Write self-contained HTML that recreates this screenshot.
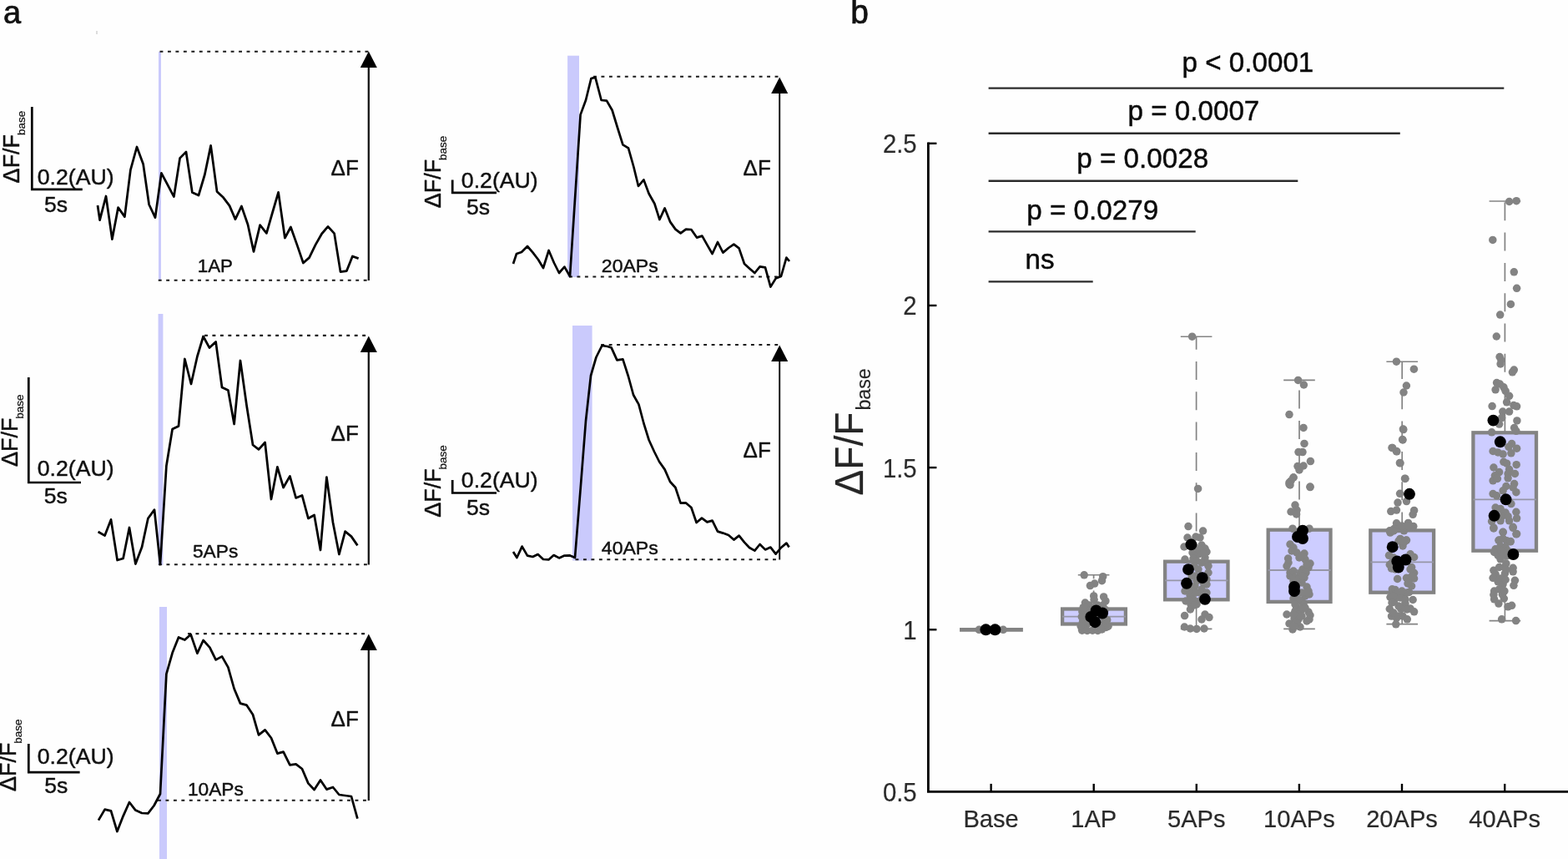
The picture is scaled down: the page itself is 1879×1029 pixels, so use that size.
<!DOCTYPE html>
<html lang="en">
<head>
<meta charset="utf-8">
<title>Figure</title>
<style>
html,body{margin:0;padding:0;background:#fff;}
body{width:1879px;height:1029px;overflow:hidden;}
svg{display:block;font-family:"Liberation Sans",sans-serif;}
</style>
</head>
<body>
<svg width="1879" height="1029" viewBox="0 0 1879 1029">
<rect width="1879" height="1029" fill="#fefefe"/>
<text transform="translate(4.00 28.30) scale(1 1.02)" font-size="38" fill="#111" stroke="#111" stroke-width="0.7" stroke-linejoin="round" text-anchor="start">a</text>
<text transform="translate(1019.30 27.60) scale(1 1.03)" font-size="39" fill="#111" stroke="#111" stroke-width="0.7" stroke-linejoin="round" text-anchor="start">b</text>
<rect x="115.50" y="37.00" width="1.00" height="4.00" fill="#bbb"/>
<rect x="190.00" y="62.00" width="3.00" height="274.00" fill="#cacafc"/>
<line x1="191.50" y1="61.70" x2="441.60" y2="61.70" stroke="#1a1a1a" stroke-width="2.1" stroke-linecap="butt" stroke-dasharray="3.9 5.56"/>
<line x1="189.75" y1="335.75" x2="441.60" y2="335.75" stroke="#1a1a1a" stroke-width="2.1" stroke-linecap="butt" stroke-dasharray="3.9 5.56"/>
<line x1="441.80" y1="71.50" x2="441.80" y2="336.00" stroke="#161616" stroke-width="2.3" stroke-linecap="butt"/>
<polygon points="441.8,61.5 431.8,81.0 451.8,81.0" fill="#000"/>
<polyline points="117.0,246.0 119.6,263.6 127.0,235.0 134.4,286.6 141.6,248.6 149.4,259.6 156.4,203.6 164.0,176.0 171.6,196.4 178.6,245.0 186.0,260.6 193.4,207.4 201.0,221.6 208.4,235.6 215.6,189.4 223.0,182.0 230.4,230.6 238.0,234.0 245.4,209.0 252.6,174.4 260.0,229.4 267.6,236.6 275.0,246.4 282.0,262.6 289.4,247.0 297.0,269.0 304.0,301.4 311.6,269.6 319.4,279.4 326.4,255.0 333.6,230.4 341.4,285.0 348.4,272.0 356.0,293.4 363.4,315.0 370.6,308.6 378.0,293.4 385.6,280.0 393.0,271.4 400.6,279.6 408.0,325.6 415.4,324.6 422.4,307.0 429.6,309.6" fill="none" stroke="#000" stroke-width="2.75" stroke-linejoin="round" stroke-linecap="butt"/>
<text transform="translate(236.70 325.60) scale(1 0.99)" font-size="22.4" fill="#111" stroke="#111" stroke-width="0.45" stroke-linejoin="round" text-anchor="start">1AP</text>
<text transform="translate(396.60 209.60) scale(1 0.99)" font-size="26" fill="#111" stroke="#111" stroke-width="0.45" stroke-linejoin="round" text-anchor="start">&#916;F</text>
<polyline points="38.3,128.0 38.3,226.8 98.8,226.8" fill="none" stroke="#000" stroke-width="2.7" stroke-linejoin="miter"/>
<text transform="translate(44.70 220.80) scale(1 0.99)" font-size="26.7" fill="#111" stroke="#111" stroke-width="0.45" stroke-linejoin="round" text-anchor="start">0.2(AU)</text>
<text transform="translate(53.00 254.00) scale(1 0.99)" font-size="26.6" fill="#111" stroke="#111" stroke-width="0.45" stroke-linejoin="round" text-anchor="start">5s</text>
<text transform="translate(23.20 219.40) rotate(-90) scale(1 0.99)" font-size="27" fill="#111" stroke="#111" stroke-width="0.45" stroke-linejoin="round">&#916;F/F<tspan font-size="13.5" dy="7.0" dx="-1.2" stroke-width="0.25">base</tspan></text>
<rect x="189.60" y="376.00" width="5.80" height="301.00" fill="#cacafc"/>
<line x1="245.00" y1="401.85" x2="441.60" y2="401.85" stroke="#1a1a1a" stroke-width="2.1" stroke-linecap="butt" stroke-dasharray="3.9 5.56"/>
<line x1="190.00" y1="676.30" x2="441.60" y2="676.30" stroke="#1a1a1a" stroke-width="2.1" stroke-linecap="butt" stroke-dasharray="3.9 5.56"/>
<line x1="441.80" y1="412.50" x2="441.80" y2="676.50" stroke="#161616" stroke-width="2.3" stroke-linecap="butt"/>
<polygon points="441.8,402.5 431.8,422.0 451.8,422.0" fill="#000"/>
<polyline points="117.6,637.0 125.6,641.6 133.0,622.4 140.6,671.0 147.6,669.0 155.0,632.0 162.4,675.6 170.0,655.6 177.4,621.0 185.0,610.6 192.0,676.0 199.4,558.0 206.6,514.0 214.0,510.4 221.4,430.0 229.0,460.0 236.4,427.0 243.6,403.0 251.0,416.6 258.6,409.4 266.0,464.0 273.4,467.6 280.6,508.0 288.0,432.0 295.6,486.0 303.0,533.0 310.0,538.4 317.6,530.0 325.0,598.0 332.4,559.4 339.6,584.0 347.4,570.4 354.6,596.4 362.0,593.4 369.4,621.0 376.6,617.0 384.0,659.0 391.4,571.6 399.0,626.0 406.4,664.0 413.6,636.6 421.0,642.6 428.4,653.4" fill="none" stroke="#000" stroke-width="2.75" stroke-linejoin="round" stroke-linecap="butt"/>
<text transform="translate(231.00 668.00) scale(1 0.99)" font-size="22.7" fill="#111" stroke="#111" stroke-width="0.45" stroke-linejoin="round" text-anchor="start">5APs</text>
<text transform="translate(396.60 528.00) scale(1 0.99)" font-size="26" fill="#111" stroke="#111" stroke-width="0.45" stroke-linejoin="round" text-anchor="start">&#916;F</text>
<polyline points="34.3,452.0 34.3,578.0 97.0,578.0" fill="none" stroke="#000" stroke-width="2.7" stroke-linejoin="miter"/>
<text transform="translate(44.70 570.30) scale(1 0.99)" font-size="26.7" fill="#111" stroke="#111" stroke-width="0.45" stroke-linejoin="round" text-anchor="start">0.2(AU)</text>
<text transform="translate(52.70 603.40) scale(1 0.99)" font-size="26.6" fill="#111" stroke="#111" stroke-width="0.45" stroke-linejoin="round" text-anchor="start">5s</text>
<text transform="translate(21.10 559.00) rotate(-90) scale(1 0.99)" font-size="27" fill="#111" stroke="#111" stroke-width="0.45" stroke-linejoin="round">&#916;F/F<tspan font-size="13.5" dy="7.0" dx="-1.2" stroke-width="0.25">base</tspan></text>
<rect x="191.00" y="727.00" width="9.00" height="302.00" fill="#cacafc"/>
<line x1="225.00" y1="759.10" x2="441.60" y2="759.10" stroke="#1a1a1a" stroke-width="2.1" stroke-linecap="butt" stroke-dasharray="3.9 5.56"/>
<line x1="189.00" y1="958.80" x2="441.60" y2="958.80" stroke="#1a1a1a" stroke-width="2.1" stroke-linecap="butt" stroke-dasharray="3.9 5.56"/>
<line x1="441.80" y1="769.50" x2="441.80" y2="959.00" stroke="#161616" stroke-width="2.3" stroke-linecap="butt"/>
<polygon points="441.8,759.5 431.8,779.0 451.8,779.0" fill="#000"/>
<polyline points="118.0,982.6 125.6,969.6 133.0,971.4 140.4,996.0 147.6,977.6 155.0,961.0 162.4,970.6 170.0,974.0 177.4,974.4 184.6,965.0 192.0,951.0 199.4,807.4 206.6,782.0 214.0,763.4 221.4,766.6 228.6,760.0 236.4,782.6 243.6,767.0 251.4,775.6 258.6,790.4 266.0,786.4 273.4,799.4 280.6,825.0 288.0,842.6 295.4,844.6 303.0,856.0 310.0,880.4 317.6,874.4 325.0,884.0 332.4,902.6 339.6,900.6 347.4,916.4 354.6,915.4 362.0,921.0 369.4,938.4 376.6,946.0 384.0,934.4 391.4,945.6 399.0,943.0 406.4,952.0 413.6,953.0 421.0,954.0 428.4,980.6" fill="none" stroke="#000" stroke-width="2.75" stroke-linejoin="round" stroke-linecap="butt"/>
<text transform="translate(225.00 953.00) scale(1 0.99)" font-size="22.7" fill="#111" stroke="#111" stroke-width="0.45" stroke-linejoin="round" text-anchor="start">10APs</text>
<text transform="translate(396.60 870.00) scale(1 0.99)" font-size="26" fill="#111" stroke="#111" stroke-width="0.45" stroke-linejoin="round" text-anchor="start">&#916;F</text>
<polyline points="34.3,891.0 34.3,925.2 95.6,925.2" fill="none" stroke="#000" stroke-width="2.7" stroke-linejoin="miter"/>
<text transform="translate(44.70 914.60) scale(1 0.99)" font-size="26.7" fill="#111" stroke="#111" stroke-width="0.45" stroke-linejoin="round" text-anchor="start">0.2(AU)</text>
<text transform="translate(53.30 950.20) scale(1 0.99)" font-size="26.6" fill="#111" stroke="#111" stroke-width="0.45" stroke-linejoin="round" text-anchor="start">5s</text>
<text transform="translate(19.00 948.00) rotate(-90) scale(1 0.99)" font-size="27" fill="#111" stroke="#111" stroke-width="0.45" stroke-linejoin="round">&#916;F/F<tspan font-size="13.5" dy="7.0" dx="-1.2" stroke-width="0.25">base</tspan></text>
<rect x="680.10" y="66.70" width="13.90" height="265.30" fill="#cacafc"/>
<line x1="711.00" y1="91.70" x2="933.60" y2="91.70" stroke="#1a1a1a" stroke-width="2.1" stroke-linecap="butt" stroke-dasharray="3.9 5.56"/>
<line x1="682.00" y1="331.50" x2="933.00" y2="331.50" stroke="#1a1a1a" stroke-width="2.1" stroke-linecap="butt" stroke-dasharray="3.9 5.56"/>
<line x1="934.20" y1="102.50" x2="934.20" y2="332.00" stroke="#161616" stroke-width="2.0" stroke-linecap="butt"/>
<polygon points="934.2,92.5 924.2,112.0 944.2,112.0" fill="#000"/>
<polyline points="615.0,316.0 619.0,304.0 625.0,302.0 632.0,295.0 638.4,302.4 645.0,311.0 651.0,321.0 657.6,300.0 664.0,315.0 670.0,327.0 676.4,319.6 683.0,331.0 695.6,137.4 702.0,120.0 708.4,94.0 713.4,92.6 720.6,120.0 727.0,120.6 733.6,132.0 740.0,153.0 746.4,173.4 753.0,177.4 759.4,200.0 765.0,223.0 771.4,215.4 777.6,232.0 784.4,244.0 790.4,263.0 796.6,249.4 803.0,265.6 809.4,274.6 815.6,279.4 822.0,274.6 828.4,275.0 835.0,284.6 841.4,282.6 847.6,293.6 853.6,304.0 860.0,290.0 866.4,302.6 873.0,297.0 879.4,292.6 885.6,297.4 892.0,316.0 898.0,321.4 904.4,327.0 910.6,319.4 917.0,320.4 923.4,343.6 929.6,333.6 936.0,331.0 942.4,308.6 946.0,313.0" fill="none" stroke="#000" stroke-width="2.7" stroke-linejoin="round" stroke-linecap="butt"/>
<text transform="translate(720.80 325.60) scale(1 0.99)" font-size="23.1" fill="#111" stroke="#111" stroke-width="0.45" stroke-linejoin="round" text-anchor="start">20APs</text>
<text transform="translate(890.60 210.00) scale(1 0.99)" font-size="26" fill="#111" stroke="#111" stroke-width="0.45" stroke-linejoin="round" text-anchor="start">&#916;F</text>
<polyline points="542.2,215.4 542.2,230.8 595.0,230.8" fill="none" stroke="#000" stroke-width="2.7" stroke-linejoin="miter"/>
<text transform="translate(552.80 224.70) scale(1 0.99)" font-size="26.7" fill="#111" stroke="#111" stroke-width="0.45" stroke-linejoin="round" text-anchor="start">0.2(AU)</text>
<text transform="translate(559.00 257.40) scale(1 0.99)" font-size="26.6" fill="#111" stroke="#111" stroke-width="0.45" stroke-linejoin="round" text-anchor="start">5s</text>
<text transform="translate(527.75 249.30) rotate(-90) scale(1 0.99)" font-size="27" fill="#111" stroke="#111" stroke-width="0.45" stroke-linejoin="round">&#916;F/F<tspan font-size="13.5" dy="7.0" dx="-1.2" stroke-width="0.25">base</tspan></text>
<rect x="686.00" y="390.00" width="23.60" height="281.50" fill="#cacafc"/>
<line x1="720.20" y1="413.00" x2="933.60" y2="413.00" stroke="#1a1a1a" stroke-width="2.1" stroke-linecap="butt" stroke-dasharray="3.9 5.56"/>
<line x1="689.50" y1="670.30" x2="933.60" y2="670.30" stroke="#1a1a1a" stroke-width="2.1" stroke-linecap="butt" stroke-dasharray="3.9 5.56"/>
<line x1="934.20" y1="423.50" x2="934.20" y2="670.50" stroke="#161616" stroke-width="2.0" stroke-linecap="butt"/>
<polygon points="934.2,413.5 924.2,433.0 944.2,433.0" fill="#000"/>
<polyline points="615.0,661.0 619.4,668.0 625.6,654.6 632.0,665.6 638.4,667.0 644.6,664.0 651.0,670.0 657.4,670.4 663.6,665.0 670.0,668.4 676.4,665.6 683.0,665.4 689.0,668.0 695.6,585.8 702.0,504.0 708.0,450.0 714.4,428.0 721.4,414.0 728.0,415.0 732.6,416.4 739.4,431.4 746.4,430.4 753.0,451.0 759.0,473.0 765.4,484.4 771.4,507.0 777.6,527.0 784.0,541.0 790.0,553.0 796.6,562.4 803.0,577.0 809.4,584.0 815.6,602.6 822.0,602.4 828.4,608.0 834.6,626.0 841.0,620.6 847.4,625.4 853.6,623.6 860.0,636.6 866.4,638.6 873.0,641.0 879.4,646.6 885.6,641.6 892.0,649.6 898.0,656.0 904.4,659.6 910.6,652.0 917.0,658.4 923.4,655.6 929.6,663.6 936.0,656.0 942.4,650.6 945.6,655.6" fill="none" stroke="#000" stroke-width="2.7" stroke-linejoin="round" stroke-linecap="butt"/>
<text transform="translate(720.80 664.30) scale(1 0.99)" font-size="23.1" fill="#111" stroke="#111" stroke-width="0.45" stroke-linejoin="round" text-anchor="start">40APs</text>
<text transform="translate(890.60 547.60) scale(1 0.99)" font-size="26" fill="#111" stroke="#111" stroke-width="0.45" stroke-linejoin="round" text-anchor="start">&#916;F</text>
<polyline points="542.2,575.0 542.2,590.5 595.0,590.5" fill="none" stroke="#000" stroke-width="2.7" stroke-linejoin="miter"/>
<text transform="translate(552.80 583.90) scale(1 0.99)" font-size="26.7" fill="#111" stroke="#111" stroke-width="0.45" stroke-linejoin="round" text-anchor="start">0.2(AU)</text>
<text transform="translate(559.00 616.50) scale(1 0.99)" font-size="26.6" fill="#111" stroke="#111" stroke-width="0.45" stroke-linejoin="round" text-anchor="start">5s</text>
<text transform="translate(527.75 619.80) rotate(-90) scale(1 0.99)" font-size="27" fill="#111" stroke="#111" stroke-width="0.45" stroke-linejoin="round">&#916;F/F<tspan font-size="13.5" dy="7.0" dx="-1.2" stroke-width="0.25">base</tspan></text>
<line x1="1184.60" y1="105.60" x2="1802.30" y2="105.60" stroke="#2b2b2b" stroke-width="2.4" stroke-linecap="butt"/>
<text transform="translate(1416.50 86.10) scale(1 1.01)" font-size="33.2" fill="#0a0a0a" stroke="#0a0a0a" stroke-width="0.45" stroke-linejoin="round" text-anchor="start">p &lt; 0.0001</text>
<line x1="1184.60" y1="159.80" x2="1677.80" y2="159.80" stroke="#2b2b2b" stroke-width="2.4" stroke-linecap="butt"/>
<text transform="translate(1351.50 143.60) scale(1 1.01)" font-size="33.2" fill="#0a0a0a" stroke="#0a0a0a" stroke-width="0.45" stroke-linejoin="round" text-anchor="start">p = 0.0007</text>
<line x1="1184.60" y1="216.80" x2="1555.30" y2="216.80" stroke="#2b2b2b" stroke-width="2.4" stroke-linecap="butt"/>
<text transform="translate(1290.30 200.60) scale(1 1.01)" font-size="33.2" fill="#0a0a0a" stroke="#0a0a0a" stroke-width="0.45" stroke-linejoin="round" text-anchor="start">p = 0.0028</text>
<line x1="1184.60" y1="277.40" x2="1432.70" y2="277.40" stroke="#2b2b2b" stroke-width="2.4" stroke-linecap="butt"/>
<text transform="translate(1230.30 262.60) scale(1 1.01)" font-size="33.2" fill="#0a0a0a" stroke="#0a0a0a" stroke-width="0.45" stroke-linejoin="round" text-anchor="start">p = 0.0279</text>
<line x1="1184.60" y1="337.40" x2="1309.70" y2="337.40" stroke="#2b2b2b" stroke-width="2.4" stroke-linecap="butt"/>
<text transform="translate(1228.60 321.60) scale(1 1.01)" font-size="33.2" fill="#0a0a0a" stroke="#0a0a0a" stroke-width="0.45" stroke-linejoin="round" text-anchor="start">ns</text>
<line x1="1150.00" y1="754.30" x2="1225.90" y2="754.30" stroke="#838383" stroke-width="4.8" stroke-linecap="butt"/>
<circle cx="1173.2" cy="754.3" r="4.75" fill="#838383"/>
<circle cx="1178.0" cy="754.3" r="4.75" fill="#838383"/>
<circle cx="1196.0" cy="754.3" r="4.75" fill="#838383"/>
<circle cx="1202.2" cy="754.3" r="4.75" fill="#838383"/>
<circle cx="1181.4" cy="754.3" r="6.95" fill="#000"/>
<circle cx="1192.4" cy="754.3" r="6.95" fill="#000"/>
<line x1="1310.60" y1="729.60" x2="1310.60" y2="688.80" stroke="#838383" stroke-width="1.7" stroke-linecap="butt" stroke-dasharray="22 14.3"/>
<line x1="1310.60" y1="749.60" x2="1310.60" y2="754.20" stroke="#838383" stroke-width="1.6" stroke-linecap="butt"/>
<line x1="1291.80" y1="688.80" x2="1329.40" y2="688.80" stroke="#838383" stroke-width="1.6" stroke-linecap="butt"/>
<line x1="1291.80" y1="754.20" x2="1329.40" y2="754.20" stroke="#838383" stroke-width="1.6" stroke-linecap="butt"/>
<rect x="1273.10" y="729.50" width="75.80" height="18.00" fill="#cdcdff" stroke="#838383" stroke-width="4.3"/>
<line x1="1273.00" y1="738.70" x2="1349.00" y2="738.70" stroke="#9696a6" stroke-width="1.8" stroke-linecap="butt"/>
<circle cx="1299.2" cy="688.8" r="4.75" fill="#838383"/>
<circle cx="1321.7" cy="690.7" r="4.75" fill="#838383"/>
<circle cx="1320.5" cy="695.7" r="4.75" fill="#838383"/>
<circle cx="1311.7" cy="699.1" r="4.75" fill="#838383"/>
<circle cx="1306.4" cy="701.6" r="4.75" fill="#838383"/>
<circle cx="1310.7" cy="713.9" r="4.75" fill="#838383"/>
<circle cx="1311.1" cy="718.3" r="4.75" fill="#838383"/>
<circle cx="1322.6" cy="714.9" r="4.75" fill="#838383"/>
<circle cx="1324.9" cy="719.9" r="4.75" fill="#838383"/>
<circle cx="1300.4" cy="722.0" r="4.75" fill="#838383"/>
<circle cx="1305.4" cy="725.1" r="4.75" fill="#838383"/>
<circle cx="1315.5" cy="725.1" r="4.75" fill="#838383"/>
<circle cx="1321.7" cy="725.1" r="4.75" fill="#838383"/>
<circle cx="1301.7" cy="728.9" r="4.75" fill="#838383"/>
<circle cx="1306.7" cy="730.2" r="4.75" fill="#838383"/>
<circle cx="1318.0" cy="728.9" r="4.75" fill="#838383"/>
<circle cx="1324.2" cy="730.2" r="4.75" fill="#838383"/>
<circle cx="1302.9" cy="735.2" r="4.75" fill="#838383"/>
<circle cx="1315.5" cy="736.4" r="4.75" fill="#838383"/>
<circle cx="1323.0" cy="740.2" r="4.75" fill="#838383"/>
<circle cx="1301.7" cy="741.4" r="4.75" fill="#838383"/>
<circle cx="1324.2" cy="746.5" r="4.75" fill="#838383"/>
<circle cx="1302.9" cy="747.7" r="4.75" fill="#838383"/>
<circle cx="1318.0" cy="747.7" r="4.75" fill="#838383"/>
<circle cx="1297.9" cy="751.5" r="4.75" fill="#838383"/>
<circle cx="1325.5" cy="751.5" r="4.75" fill="#838383"/>
<circle cx="1296.7" cy="755.2" r="4.75" fill="#838383"/>
<circle cx="1302.9" cy="755.5" r="4.75" fill="#838383"/>
<circle cx="1309.2" cy="755.2" r="4.75" fill="#838383"/>
<circle cx="1315.5" cy="755.5" r="4.75" fill="#838383"/>
<circle cx="1320.5" cy="754.0" r="4.75" fill="#838383"/>
<circle cx="1296.9" cy="732.7" r="4.75" fill="#838383"/>
<circle cx="1296.3" cy="738.9" r="4.75" fill="#838383"/>
<circle cx="1297.4" cy="745.2" r="4.75" fill="#838383"/>
<circle cx="1295.2" cy="750.2" r="4.75" fill="#838383"/>
<circle cx="1298.2" cy="727.7" r="4.75" fill="#838383"/>
<circle cx="1328.0" cy="750.2" r="4.75" fill="#838383"/>
<circle cx="1326.7" cy="742.7" r="4.75" fill="#838383"/>
<circle cx="1313.6" cy="731.4" r="6.95" fill="#000"/>
<circle cx="1321.1" cy="734.5" r="6.95" fill="#000"/>
<circle cx="1307.3" cy="738.9" r="6.95" fill="#000"/>
<circle cx="1312.3" cy="745.2" r="6.95" fill="#000"/>
<line x1="1433.60" y1="672.80" x2="1433.60" y2="403.20" stroke="#838383" stroke-width="1.7" stroke-linecap="butt" stroke-dasharray="22 14.3"/>
<line x1="1433.60" y1="720.40" x2="1433.60" y2="753.40" stroke="#838383" stroke-width="1.6" stroke-linecap="butt"/>
<line x1="1414.80" y1="403.20" x2="1452.40" y2="403.20" stroke="#838383" stroke-width="1.6" stroke-linecap="butt"/>
<line x1="1414.80" y1="753.40" x2="1452.40" y2="753.40" stroke="#838383" stroke-width="1.6" stroke-linecap="butt"/>
<rect x="1396.10" y="672.70" width="75.40" height="45.60" fill="#cdcdff" stroke="#838383" stroke-width="4.3"/>
<line x1="1396.00" y1="695.40" x2="1471.60" y2="695.40" stroke="#9696a6" stroke-width="1.8" stroke-linecap="butt"/>
<circle cx="1435.6" cy="585.4" r="4.75" fill="#838383"/>
<circle cx="1424.0" cy="630.6" r="4.75" fill="#838383"/>
<circle cx="1441.6" cy="636.0" r="4.75" fill="#838383"/>
<circle cx="1423.0" cy="644.0" r="4.75" fill="#838383"/>
<circle cx="1433.0" cy="643.0" r="4.75" fill="#838383"/>
<circle cx="1438.0" cy="644.0" r="4.75" fill="#838383"/>
<circle cx="1419.0" cy="655.0" r="4.75" fill="#838383"/>
<circle cx="1440.0" cy="653.0" r="4.75" fill="#838383"/>
<circle cx="1444.0" cy="657.0" r="4.75" fill="#838383"/>
<circle cx="1446.0" cy="661.0" r="4.75" fill="#838383"/>
<circle cx="1429.0" cy="662.0" r="4.75" fill="#838383"/>
<circle cx="1436.0" cy="664.0" r="4.75" fill="#838383"/>
<circle cx="1420.0" cy="670.0" r="4.75" fill="#838383"/>
<circle cx="1430.0" cy="669.0" r="4.75" fill="#838383"/>
<circle cx="1444.0" cy="668.0" r="4.75" fill="#838383"/>
<circle cx="1434.0" cy="672.0" r="4.75" fill="#838383"/>
<circle cx="1440.0" cy="674.0" r="4.75" fill="#838383"/>
<circle cx="1447.0" cy="675.0" r="4.75" fill="#838383"/>
<circle cx="1431.0" cy="678.0" r="4.75" fill="#838383"/>
<circle cx="1448.0" cy="686.0" r="4.75" fill="#838383"/>
<circle cx="1432.0" cy="690.0" r="4.75" fill="#838383"/>
<circle cx="1446.0" cy="700.0" r="4.75" fill="#838383"/>
<circle cx="1432.0" cy="702.0" r="4.75" fill="#838383"/>
<circle cx="1440.0" cy="706.0" r="4.75" fill="#838383"/>
<circle cx="1420.0" cy="708.0" r="4.75" fill="#838383"/>
<circle cx="1446.0" cy="710.0" r="4.75" fill="#838383"/>
<circle cx="1426.0" cy="713.0" r="4.75" fill="#838383"/>
<circle cx="1430.0" cy="718.0" r="4.75" fill="#838383"/>
<circle cx="1421.0" cy="720.0" r="4.75" fill="#838383"/>
<circle cx="1427.0" cy="724.0" r="4.75" fill="#838383"/>
<circle cx="1434.0" cy="724.0" r="4.75" fill="#838383"/>
<circle cx="1426.4" cy="730.0" r="4.75" fill="#838383"/>
<circle cx="1419.6" cy="737.6" r="4.75" fill="#838383"/>
<circle cx="1444.0" cy="736.0" r="4.75" fill="#838383"/>
<circle cx="1449.0" cy="739.6" r="4.75" fill="#838383"/>
<circle cx="1440.0" cy="742.0" r="4.75" fill="#838383"/>
<circle cx="1419.4" cy="751.0" r="4.75" fill="#838383"/>
<circle cx="1426.4" cy="753.0" r="4.75" fill="#838383"/>
<circle cx="1434.0" cy="753.4" r="4.75" fill="#838383"/>
<circle cx="1443.0" cy="753.0" r="4.75" fill="#838383"/>
<circle cx="1428.6" cy="403.2" r="4.75" fill="#838383"/>
<circle cx="1436.0" cy="682.0" r="4.75" fill="#838383"/>
<circle cx="1440.0" cy="690.0" r="4.75" fill="#838383"/>
<circle cx="1434.0" cy="696.0" r="4.75" fill="#838383"/>
<circle cx="1442.0" cy="698.0" r="4.75" fill="#838383"/>
<circle cx="1428.0" cy="690.0" r="4.75" fill="#838383"/>
<circle cx="1438.0" cy="710.0" r="4.75" fill="#838383"/>
<circle cx="1446.0" cy="694.0" r="4.75" fill="#838383"/>
<circle cx="1448.0" cy="678.0" r="4.75" fill="#838383"/>
<circle cx="1426.0" cy="706.0" r="4.75" fill="#838383"/>
<circle cx="1440.0" cy="718.0" r="4.75" fill="#838383"/>
<circle cx="1431.0" cy="655.0" r="4.75" fill="#838383"/>
<circle cx="1427.0" cy="649.0" r="4.75" fill="#838383"/>
<circle cx="1437.0" cy="658.0" r="4.75" fill="#838383"/>
<circle cx="1442.0" cy="663.0" r="4.75" fill="#838383"/>
<circle cx="1433.0" cy="710.0" r="4.75" fill="#838383"/>
<circle cx="1425.0" cy="719.0" r="4.75" fill="#838383"/>
<circle cx="1431.0" cy="725.0" r="4.75" fill="#838383"/>
<circle cx="1427.4" cy="652.4" r="6.95" fill="#000"/>
<circle cx="1424.0" cy="682.1" r="6.95" fill="#000"/>
<circle cx="1440.8" cy="692.1" r="6.95" fill="#000"/>
<circle cx="1422.0" cy="698.8" r="6.95" fill="#000"/>
<circle cx="1444.0" cy="717.8" r="6.95" fill="#000"/>
<line x1="1557.00" y1="634.80" x2="1557.00" y2="455.40" stroke="#838383" stroke-width="1.7" stroke-linecap="butt" stroke-dasharray="22 14.3"/>
<line x1="1557.00" y1="723.00" x2="1557.00" y2="753.40" stroke="#838383" stroke-width="1.6" stroke-linecap="butt"/>
<line x1="1538.20" y1="455.40" x2="1575.80" y2="455.40" stroke="#838383" stroke-width="1.6" stroke-linecap="butt"/>
<line x1="1538.20" y1="753.40" x2="1575.80" y2="753.40" stroke="#838383" stroke-width="1.6" stroke-linecap="butt"/>
<rect x="1519.70" y="634.70" width="74.80" height="86.20" fill="#cdcdff" stroke="#838383" stroke-width="4.3"/>
<line x1="1519.60" y1="683.00" x2="1594.60" y2="683.00" stroke="#9696a6" stroke-width="1.8" stroke-linecap="butt"/>
<circle cx="1550.0" cy="572.0" r="4.75" fill="#838383"/>
<circle cx="1545.0" cy="578.0" r="4.75" fill="#838383"/>
<circle cx="1546.0" cy="581.0" r="4.75" fill="#838383"/>
<circle cx="1570.0" cy="583.6" r="4.75" fill="#838383"/>
<circle cx="1552.0" cy="605.0" r="4.75" fill="#838383"/>
<circle cx="1547.0" cy="613.0" r="4.75" fill="#838383"/>
<circle cx="1554.0" cy="611.0" r="4.75" fill="#838383"/>
<circle cx="1553.6" cy="616.0" r="4.75" fill="#838383"/>
<circle cx="1549.0" cy="633.2" r="4.75" fill="#838383"/>
<circle cx="1569.0" cy="633.2" r="4.75" fill="#838383"/>
<circle cx="1546.0" cy="652.0" r="4.75" fill="#838383"/>
<circle cx="1550.0" cy="656.0" r="4.75" fill="#838383"/>
<circle cx="1554.0" cy="662.0" r="4.75" fill="#838383"/>
<circle cx="1563.0" cy="663.0" r="4.75" fill="#838383"/>
<circle cx="1557.0" cy="668.0" r="4.75" fill="#838383"/>
<circle cx="1543.6" cy="669.0" r="4.75" fill="#838383"/>
<circle cx="1564.0" cy="670.0" r="4.75" fill="#838383"/>
<circle cx="1544.0" cy="674.0" r="4.75" fill="#838383"/>
<circle cx="1570.0" cy="675.0" r="4.75" fill="#838383"/>
<circle cx="1542.0" cy="678.0" r="4.75" fill="#838383"/>
<circle cx="1568.0" cy="680.0" r="4.75" fill="#838383"/>
<circle cx="1561.0" cy="682.0" r="4.75" fill="#838383"/>
<circle cx="1546.0" cy="686.0" r="4.75" fill="#838383"/>
<circle cx="1558.0" cy="687.0" r="4.75" fill="#838383"/>
<circle cx="1546.0" cy="690.0" r="4.75" fill="#838383"/>
<circle cx="1563.0" cy="692.0" r="4.75" fill="#838383"/>
<circle cx="1550.0" cy="696.0" r="4.75" fill="#838383"/>
<circle cx="1560.0" cy="698.0" r="4.75" fill="#838383"/>
<circle cx="1566.0" cy="703.0" r="4.75" fill="#838383"/>
<circle cx="1568.0" cy="708.0" r="4.75" fill="#838383"/>
<circle cx="1569.0" cy="712.0" r="4.75" fill="#838383"/>
<circle cx="1564.0" cy="714.0" r="4.75" fill="#838383"/>
<circle cx="1550.0" cy="717.0" r="4.75" fill="#838383"/>
<circle cx="1560.0" cy="720.0" r="4.75" fill="#838383"/>
<circle cx="1562.0" cy="724.0" r="4.75" fill="#838383"/>
<circle cx="1554.0" cy="728.0" r="4.75" fill="#838383"/>
<circle cx="1560.0" cy="730.0" r="4.75" fill="#838383"/>
<circle cx="1552.0" cy="732.0" r="4.75" fill="#838383"/>
<circle cx="1568.0" cy="733.0" r="4.75" fill="#838383"/>
<circle cx="1542.0" cy="736.0" r="4.75" fill="#838383"/>
<circle cx="1556.0" cy="736.0" r="4.75" fill="#838383"/>
<circle cx="1570.0" cy="737.0" r="4.75" fill="#838383"/>
<circle cx="1551.0" cy="741.0" r="4.75" fill="#838383"/>
<circle cx="1569.0" cy="742.0" r="4.75" fill="#838383"/>
<circle cx="1566.0" cy="744.0" r="4.75" fill="#838383"/>
<circle cx="1545.0" cy="747.0" r="4.75" fill="#838383"/>
<circle cx="1554.0" cy="747.0" r="4.75" fill="#838383"/>
<circle cx="1558.0" cy="751.0" r="4.75" fill="#838383"/>
<circle cx="1549.0" cy="754.0" r="4.75" fill="#838383"/>
<circle cx="1555.6" cy="455.4" r="4.75" fill="#838383"/>
<circle cx="1562.4" cy="461.0" r="4.75" fill="#838383"/>
<circle cx="1545.0" cy="496.6" r="4.75" fill="#838383"/>
<circle cx="1562.0" cy="512.4" r="4.75" fill="#838383"/>
<circle cx="1563.0" cy="531.4" r="4.75" fill="#838383"/>
<circle cx="1556.0" cy="541.6" r="4.75" fill="#838383"/>
<circle cx="1561.0" cy="541.6" r="4.75" fill="#838383"/>
<circle cx="1570.4" cy="552.6" r="4.75" fill="#838383"/>
<circle cx="1555.0" cy="558.6" r="4.75" fill="#838383"/>
<circle cx="1562.0" cy="558.0" r="4.75" fill="#838383"/>
<circle cx="1557.0" cy="563.0" r="4.75" fill="#838383"/>
<circle cx="1550.0" cy="572.0" r="4.75" fill="#838383"/>
<circle cx="1547.0" cy="576.0" r="4.75" fill="#838383"/>
<circle cx="1545.0" cy="580.0" r="4.75" fill="#838383"/>
<circle cx="1570.0" cy="583.0" r="4.75" fill="#838383"/>
<circle cx="1550.0" cy="684.0" r="4.75" fill="#838383"/>
<circle cx="1552.0" cy="692.0" r="4.75" fill="#838383"/>
<circle cx="1556.0" cy="694.0" r="4.75" fill="#838383"/>
<circle cx="1560.0" cy="710.0" r="4.75" fill="#838383"/>
<circle cx="1556.0" cy="718.0" r="4.75" fill="#838383"/>
<circle cx="1552.0" cy="724.0" r="4.75" fill="#838383"/>
<circle cx="1564.0" cy="728.0" r="4.75" fill="#838383"/>
<circle cx="1556.0" cy="742.0" r="4.75" fill="#838383"/>
<circle cx="1550.0" cy="736.0" r="4.75" fill="#838383"/>
<circle cx="1560.0" cy="738.0" r="4.75" fill="#838383"/>
<circle cx="1548.0" cy="660.0" r="4.75" fill="#838383"/>
<circle cx="1560.0" cy="666.0" r="4.75" fill="#838383"/>
<circle cx="1566.0" cy="676.0" r="4.75" fill="#838383"/>
<circle cx="1565.0" cy="686.0" r="4.75" fill="#838383"/>
<circle cx="1561.0" cy="690.0" r="4.75" fill="#838383"/>
<circle cx="1567.0" cy="710.0" r="4.75" fill="#838383"/>
<circle cx="1554.0" cy="746.0" r="4.75" fill="#838383"/>
<circle cx="1550.0" cy="750.0" r="4.75" fill="#838383"/>
<circle cx="1561.0" cy="635.6" r="6.95" fill="#000"/>
<circle cx="1555.0" cy="643.0" r="6.95" fill="#000"/>
<circle cx="1561.0" cy="645.0" r="6.95" fill="#000"/>
<circle cx="1551.0" cy="703.0" r="6.95" fill="#000"/>
<circle cx="1551.0" cy="708.0" r="6.95" fill="#000"/>
<line x1="1680.20" y1="635.50" x2="1680.20" y2="433.20" stroke="#838383" stroke-width="1.7" stroke-linecap="butt" stroke-dasharray="22 14.3"/>
<line x1="1680.20" y1="711.80" x2="1680.20" y2="747.60" stroke="#838383" stroke-width="1.6" stroke-linecap="butt"/>
<line x1="1661.40" y1="433.20" x2="1699.00" y2="433.20" stroke="#838383" stroke-width="1.6" stroke-linecap="butt"/>
<line x1="1661.40" y1="747.60" x2="1699.00" y2="747.60" stroke="#838383" stroke-width="1.6" stroke-linecap="butt"/>
<rect x="1642.30" y="635.40" width="75.80" height="74.30" fill="#cdcdff" stroke="#838383" stroke-width="4.3"/>
<line x1="1642.20" y1="673.30" x2="1718.20" y2="673.30" stroke="#9696a6" stroke-width="1.8" stroke-linecap="butt"/>
<circle cx="1673.4" cy="433.2" r="4.75" fill="#838383"/>
<circle cx="1694.4" cy="442.2" r="4.75" fill="#838383"/>
<circle cx="1685.4" cy="462.0" r="4.75" fill="#838383"/>
<circle cx="1682.0" cy="470.0" r="4.75" fill="#838383"/>
<circle cx="1681.4" cy="514.0" r="4.75" fill="#838383"/>
<circle cx="1680.6" cy="526.6" r="4.75" fill="#838383"/>
<circle cx="1668.0" cy="536.4" r="4.75" fill="#838383"/>
<circle cx="1673.4" cy="540.6" r="4.75" fill="#838383"/>
<circle cx="1677.4" cy="554.6" r="4.75" fill="#838383"/>
<circle cx="1683.6" cy="573.2" r="4.75" fill="#838383"/>
<circle cx="1681.8" cy="514.6" r="4.75" fill="#838383"/>
<circle cx="1681.0" cy="527.0" r="4.75" fill="#838383"/>
<circle cx="1668.7" cy="536.5" r="4.75" fill="#838383"/>
<circle cx="1673.8" cy="540.8" r="4.75" fill="#838383"/>
<circle cx="1678.0" cy="554.8" r="4.75" fill="#838383"/>
<circle cx="1684.0" cy="573.5" r="4.75" fill="#838383"/>
<circle cx="1677.6" cy="591.3" r="4.75" fill="#838383"/>
<circle cx="1685.5" cy="600.6" r="4.75" fill="#838383"/>
<circle cx="1675.0" cy="602.1" r="4.75" fill="#838383"/>
<circle cx="1666.8" cy="612.6" r="4.75" fill="#838383"/>
<circle cx="1673.5" cy="611.1" r="4.75" fill="#838383"/>
<circle cx="1694.6" cy="611.4" r="4.75" fill="#838383"/>
<circle cx="1693.1" cy="616.3" r="4.75" fill="#838383"/>
<circle cx="1673.5" cy="626.8" r="4.75" fill="#838383"/>
<circle cx="1687.5" cy="626.4" r="4.75" fill="#838383"/>
<circle cx="1693.8" cy="630.6" r="4.75" fill="#838383"/>
<circle cx="1665.3" cy="635.8" r="4.75" fill="#838383"/>
<circle cx="1670.5" cy="633.6" r="4.75" fill="#838383"/>
<circle cx="1676.5" cy="633.6" r="4.75" fill="#838383"/>
<circle cx="1682.5" cy="635.8" r="4.75" fill="#838383"/>
<circle cx="1666.0" cy="638.1" r="4.75" fill="#838383"/>
<circle cx="1678.0" cy="645.6" r="4.75" fill="#838383"/>
<circle cx="1685.5" cy="647.1" r="4.75" fill="#838383"/>
<circle cx="1666.0" cy="636.8" r="4.75" fill="#838383"/>
<circle cx="1672.0" cy="634.5" r="4.75" fill="#838383"/>
<circle cx="1681.0" cy="634.5" r="4.75" fill="#838383"/>
<circle cx="1678.0" cy="645.8" r="4.75" fill="#838383"/>
<circle cx="1684.8" cy="647.3" r="4.75" fill="#838383"/>
<circle cx="1681.0" cy="654.0" r="4.75" fill="#838383"/>
<circle cx="1664.5" cy="665.3" r="4.75" fill="#838383"/>
<circle cx="1690.1" cy="663.8" r="4.75" fill="#838383"/>
<circle cx="1694.6" cy="667.5" r="4.75" fill="#838383"/>
<circle cx="1665.3" cy="676.5" r="4.75" fill="#838383"/>
<circle cx="1667.5" cy="681.0" r="4.75" fill="#838383"/>
<circle cx="1691.6" cy="679.5" r="4.75" fill="#838383"/>
<circle cx="1694.6" cy="686.3" r="4.75" fill="#838383"/>
<circle cx="1674.6" cy="693.5" r="4.75" fill="#838383"/>
<circle cx="1685.5" cy="692.3" r="4.75" fill="#838383"/>
<circle cx="1694.6" cy="693.0" r="4.75" fill="#838383"/>
<circle cx="1687.0" cy="699.0" r="4.75" fill="#838383"/>
<circle cx="1691.6" cy="702.0" r="4.75" fill="#838383"/>
<circle cx="1668.3" cy="705.8" r="4.75" fill="#838383"/>
<circle cx="1672.0" cy="706.5" r="4.75" fill="#838383"/>
<circle cx="1688.6" cy="709.5" r="4.75" fill="#838383"/>
<circle cx="1666.0" cy="715.5" r="4.75" fill="#838383"/>
<circle cx="1675.0" cy="714.0" r="4.75" fill="#838383"/>
<circle cx="1682.5" cy="715.5" r="4.75" fill="#838383"/>
<circle cx="1693.1" cy="718.5" r="4.75" fill="#838383"/>
<circle cx="1670.5" cy="720.8" r="4.75" fill="#838383"/>
<circle cx="1684.0" cy="723.1" r="4.75" fill="#838383"/>
<circle cx="1665.3" cy="729.5" r="4.75" fill="#838383"/>
<circle cx="1678.8" cy="729.5" r="4.75" fill="#838383"/>
<circle cx="1690.1" cy="729.1" r="4.75" fill="#838383"/>
<circle cx="1694.6" cy="732.8" r="4.75" fill="#838383"/>
<circle cx="1667.5" cy="738.1" r="4.75" fill="#838383"/>
<circle cx="1673.5" cy="740.3" r="4.75" fill="#838383"/>
<circle cx="1681.0" cy="738.1" r="4.75" fill="#838383"/>
<circle cx="1686.3" cy="741.8" r="4.75" fill="#838383"/>
<circle cx="1672.8" cy="747.8" r="4.75" fill="#838383"/>
<circle cx="1670.0" cy="668.0" r="4.75" fill="#838383"/>
<circle cx="1668.0" cy="674.0" r="4.75" fill="#838383"/>
<circle cx="1672.0" cy="682.0" r="4.75" fill="#838383"/>
<circle cx="1688.0" cy="698.0" r="4.75" fill="#838383"/>
<circle cx="1692.0" cy="690.0" r="4.75" fill="#838383"/>
<circle cx="1690.0" cy="682.0" r="4.75" fill="#838383"/>
<circle cx="1686.0" cy="710.0" r="4.75" fill="#838383"/>
<circle cx="1674.0" cy="710.0" r="4.75" fill="#838383"/>
<circle cx="1670.0" cy="714.0" r="4.75" fill="#838383"/>
<circle cx="1678.0" cy="716.0" r="4.75" fill="#838383"/>
<circle cx="1684.0" cy="718.0" r="4.75" fill="#838383"/>
<circle cx="1680.0" cy="708.0" r="4.75" fill="#838383"/>
<circle cx="1668.0" cy="722.0" r="4.75" fill="#838383"/>
<circle cx="1676.0" cy="726.0" r="4.75" fill="#838383"/>
<circle cx="1686.0" cy="730.0" r="4.75" fill="#838383"/>
<circle cx="1670.0" cy="734.0" r="4.75" fill="#838383"/>
<circle cx="1676.0" cy="738.0" r="4.75" fill="#838383"/>
<circle cx="1670.0" cy="636.0" r="4.75" fill="#838383"/>
<circle cx="1680.0" cy="630.0" r="4.75" fill="#838383"/>
<circle cx="1688.0" cy="630.0" r="4.75" fill="#838383"/>
<circle cx="1676.0" cy="648.0" r="4.75" fill="#838383"/>
<circle cx="1683.0" cy="649.0" r="4.75" fill="#838383"/>
<circle cx="1689.0" cy="591.8" r="6.95" fill="#000"/>
<circle cx="1668.7" cy="655.2" r="6.95" fill="#000"/>
<circle cx="1674.3" cy="672.5" r="6.95" fill="#000"/>
<circle cx="1684.5" cy="670.5" r="6.95" fill="#000"/>
<circle cx="1675.8" cy="679.5" r="6.95" fill="#000"/>
<line x1="1803.40" y1="518.40" x2="1803.40" y2="241.00" stroke="#838383" stroke-width="1.7" stroke-linecap="butt" stroke-dasharray="22 14.3"/>
<line x1="1803.40" y1="661.80" x2="1803.40" y2="743.60" stroke="#838383" stroke-width="1.6" stroke-linecap="butt"/>
<line x1="1784.60" y1="241.00" x2="1822.20" y2="241.00" stroke="#838383" stroke-width="1.6" stroke-linecap="butt"/>
<line x1="1784.60" y1="743.60" x2="1822.20" y2="743.60" stroke="#838383" stroke-width="1.6" stroke-linecap="butt"/>
<rect x="1765.40" y="518.30" width="75.60" height="141.40" fill="#cdcdff" stroke="#838383" stroke-width="4.3"/>
<line x1="1765.30" y1="598.30" x2="1841.10" y2="598.30" stroke="#9696a6" stroke-width="1.8" stroke-linecap="butt"/>
<circle cx="1808.6" cy="241.5" r="4.75" fill="#838383"/>
<circle cx="1817.2" cy="240.7" r="4.75" fill="#838383"/>
<circle cx="1788.8" cy="287.4" r="4.75" fill="#838383"/>
<circle cx="1814.3" cy="325.8" r="4.75" fill="#838383"/>
<circle cx="1817.6" cy="345.3" r="4.75" fill="#838383"/>
<circle cx="1810.4" cy="364.4" r="4.75" fill="#838383"/>
<circle cx="1797.7" cy="377.1" r="4.75" fill="#838383"/>
<circle cx="1793.3" cy="403.0" r="4.75" fill="#838383"/>
<circle cx="1797.1" cy="427.5" r="4.75" fill="#838383"/>
<circle cx="1798.9" cy="431.5" r="4.75" fill="#838383"/>
<circle cx="1798.1" cy="436.0" r="4.75" fill="#838383"/>
<circle cx="1814.3" cy="443.1" r="4.75" fill="#838383"/>
<circle cx="1812.4" cy="445.8" r="4.75" fill="#838383"/>
<circle cx="1793.6" cy="458.5" r="4.75" fill="#838383"/>
<circle cx="1797.4" cy="460.0" r="4.75" fill="#838383"/>
<circle cx="1801.9" cy="463.8" r="4.75" fill="#838383"/>
<circle cx="1792.1" cy="466.8" r="4.75" fill="#838383"/>
<circle cx="1804.1" cy="468.3" r="4.75" fill="#838383"/>
<circle cx="1808.6" cy="474.3" r="4.75" fill="#838383"/>
<circle cx="1805.6" cy="481.8" r="4.75" fill="#838383"/>
<circle cx="1788.1" cy="486.6" r="4.75" fill="#838383"/>
<circle cx="1813.9" cy="485.6" r="4.75" fill="#838383"/>
<circle cx="1817.6" cy="486.8" r="4.75" fill="#838383"/>
<circle cx="1800.8" cy="493.1" r="4.75" fill="#838383"/>
<circle cx="1808.6" cy="493.1" r="4.75" fill="#838383"/>
<circle cx="1799.6" cy="500.6" r="4.75" fill="#838383"/>
<circle cx="1817.9" cy="503.9" r="4.75" fill="#838383"/>
<circle cx="1796.6" cy="508.1" r="4.75" fill="#838383"/>
<circle cx="1814.6" cy="512.6" r="4.75" fill="#838383"/>
<circle cx="1816.9" cy="516.3" r="4.75" fill="#838383"/>
<circle cx="1787.6" cy="517.8" r="4.75" fill="#838383"/>
<circle cx="1811.6" cy="531.5" r="4.75" fill="#838383"/>
<circle cx="1807.9" cy="535.3" r="4.75" fill="#838383"/>
<circle cx="1817.6" cy="537.2" r="4.75" fill="#838383"/>
<circle cx="1789.1" cy="540.5" r="4.75" fill="#838383"/>
<circle cx="1795.1" cy="542.0" r="4.75" fill="#838383"/>
<circle cx="1801.1" cy="544.0" r="4.75" fill="#838383"/>
<circle cx="1810.9" cy="542.8" r="4.75" fill="#838383"/>
<circle cx="1801.9" cy="553.3" r="4.75" fill="#838383"/>
<circle cx="1805.6" cy="555.2" r="4.75" fill="#838383"/>
<circle cx="1817.2" cy="556.7" r="4.75" fill="#838383"/>
<circle cx="1789.9" cy="560.0" r="4.75" fill="#838383"/>
<circle cx="1808.6" cy="562.3" r="4.75" fill="#838383"/>
<circle cx="1796.6" cy="565.6" r="4.75" fill="#838383"/>
<circle cx="1807.1" cy="567.5" r="4.75" fill="#838383"/>
<circle cx="1815.4" cy="567.5" r="4.75" fill="#838383"/>
<circle cx="1791.4" cy="569.8" r="4.75" fill="#838383"/>
<circle cx="1807.1" cy="572.8" r="4.75" fill="#838383"/>
<circle cx="1789.1" cy="575.8" r="4.75" fill="#838383"/>
<circle cx="1794.4" cy="573.5" r="4.75" fill="#838383"/>
<circle cx="1814.6" cy="579.5" r="4.75" fill="#838383"/>
<circle cx="1804.9" cy="582.5" r="4.75" fill="#838383"/>
<circle cx="1813.1" cy="584.0" r="4.75" fill="#838383"/>
<circle cx="1801.1" cy="587.8" r="4.75" fill="#838383"/>
<circle cx="1816.9" cy="589.7" r="4.75" fill="#838383"/>
<circle cx="1789.1" cy="591.6" r="4.75" fill="#838383"/>
<circle cx="1793.6" cy="593.8" r="4.75" fill="#838383"/>
<circle cx="1810.9" cy="603.6" r="4.75" fill="#838383"/>
<circle cx="1792.1" cy="608.1" r="4.75" fill="#838383"/>
<circle cx="1798.1" cy="609.6" r="4.75" fill="#838383"/>
<circle cx="1804.1" cy="614.1" r="4.75" fill="#838383"/>
<circle cx="1816.9" cy="613.3" r="4.75" fill="#838383"/>
<circle cx="1799.6" cy="618.6" r="4.75" fill="#838383"/>
<circle cx="1807.1" cy="618.6" r="4.75" fill="#838383"/>
<circle cx="1817.6" cy="620.8" r="4.75" fill="#838383"/>
<circle cx="1787.6" cy="624.6" r="4.75" fill="#838383"/>
<circle cx="1798.1" cy="623.8" r="4.75" fill="#838383"/>
<circle cx="1808.6" cy="623.8" r="4.75" fill="#838383"/>
<circle cx="1789.9" cy="632.1" r="4.75" fill="#838383"/>
<circle cx="1813.1" cy="631.3" r="4.75" fill="#838383"/>
<circle cx="1801.1" cy="637.3" r="4.75" fill="#838383"/>
<circle cx="1817.6" cy="639.6" r="4.75" fill="#838383"/>
<circle cx="1796.6" cy="647.1" r="4.75" fill="#838383"/>
<circle cx="1805.6" cy="647.8" r="4.75" fill="#838383"/>
<circle cx="1810.1" cy="648.6" r="4.75" fill="#838383"/>
<circle cx="1789.9" cy="633.0" r="4.75" fill="#838383"/>
<circle cx="1801.1" cy="637.5" r="4.75" fill="#838383"/>
<circle cx="1813.1" cy="632.3" r="4.75" fill="#838383"/>
<circle cx="1816.9" cy="639.8" r="4.75" fill="#838383"/>
<circle cx="1795.9" cy="647.3" r="4.75" fill="#838383"/>
<circle cx="1801.1" cy="645.0" r="4.75" fill="#838383"/>
<circle cx="1810.1" cy="648.8" r="4.75" fill="#838383"/>
<circle cx="1792.1" cy="657.8" r="4.75" fill="#838383"/>
<circle cx="1798.1" cy="654.0" r="4.75" fill="#838383"/>
<circle cx="1804.1" cy="655.5" r="4.75" fill="#838383"/>
<circle cx="1807.1" cy="660.0" r="4.75" fill="#838383"/>
<circle cx="1790.6" cy="661.5" r="4.75" fill="#838383"/>
<circle cx="1795.1" cy="665.3" r="4.75" fill="#838383"/>
<circle cx="1805.6" cy="666.0" r="4.75" fill="#838383"/>
<circle cx="1798.1" cy="669.8" r="4.75" fill="#838383"/>
<circle cx="1789.9" cy="683.3" r="4.75" fill="#838383"/>
<circle cx="1796.6" cy="679.5" r="4.75" fill="#838383"/>
<circle cx="1802.6" cy="679.5" r="4.75" fill="#838383"/>
<circle cx="1813.1" cy="680.3" r="4.75" fill="#838383"/>
<circle cx="1792.1" cy="687.8" r="4.75" fill="#838383"/>
<circle cx="1803.4" cy="687.0" r="4.75" fill="#838383"/>
<circle cx="1813.1" cy="684.8" r="4.75" fill="#838383"/>
<circle cx="1789.1" cy="692.3" r="4.75" fill="#838383"/>
<circle cx="1798.1" cy="693.0" r="4.75" fill="#838383"/>
<circle cx="1815.4" cy="695.3" r="4.75" fill="#838383"/>
<circle cx="1795.1" cy="696.8" r="4.75" fill="#838383"/>
<circle cx="1801.1" cy="699.8" r="4.75" fill="#838383"/>
<circle cx="1813.9" cy="701.3" r="4.75" fill="#838383"/>
<circle cx="1790.6" cy="708.0" r="4.75" fill="#838383"/>
<circle cx="1796.6" cy="705.8" r="4.75" fill="#838383"/>
<circle cx="1789.9" cy="712.5" r="4.75" fill="#838383"/>
<circle cx="1800.4" cy="712.2" r="4.75" fill="#838383"/>
<circle cx="1790.6" cy="717.8" r="4.75" fill="#838383"/>
<circle cx="1795.9" cy="723.1" r="4.75" fill="#838383"/>
<circle cx="1807.1" cy="726.8" r="4.75" fill="#838383"/>
<circle cx="1811.6" cy="725.3" r="4.75" fill="#838383"/>
<circle cx="1799.6" cy="741.8" r="4.75" fill="#838383"/>
<circle cx="1816.6" cy="743.6" r="4.75" fill="#838383"/>
<circle cx="1804.9" cy="675.0" r="4.75" fill="#838383"/>
<circle cx="1804.9" cy="682.5" r="4.75" fill="#838383"/>
<circle cx="1804.1" cy="694.5" r="4.75" fill="#838383"/>
<circle cx="1802.9" cy="708.0" r="4.75" fill="#838383"/>
<circle cx="1802.3" cy="717.0" r="4.75" fill="#838383"/>
<circle cx="1798.9" cy="660.0" r="4.75" fill="#838383"/>
<circle cx="1802.6" cy="662.3" r="4.75" fill="#838383"/>
<circle cx="1789.4" cy="503.6" r="6.95" fill="#000"/>
<circle cx="1797.8" cy="529.3" r="6.95" fill="#000"/>
<circle cx="1804.6" cy="598.3" r="6.95" fill="#000"/>
<circle cx="1790.6" cy="617.8" r="6.95" fill="#000"/>
<circle cx="1813.4" cy="664.0" r="6.95" fill="#000"/>
<polyline points="1112.4,170.6 1112.4,948.4 1879.0,948.4" fill="none" stroke="#000" stroke-width="2.8" stroke-linejoin="miter"/>
<line x1="1112.40" y1="171.80" x2="1122.40" y2="171.80" stroke="#000" stroke-width="2.4" stroke-linecap="butt"/>
<text transform="translate(1098.60 183.20) scale(1 1.055)" font-size="29.3" fill="#2a2a2a" stroke="#2a2a2a" stroke-width="0.2" stroke-linejoin="round" text-anchor="end">2.5</text>
<line x1="1112.40" y1="365.95" x2="1122.40" y2="365.95" stroke="#000" stroke-width="2.4" stroke-linecap="butt"/>
<text transform="translate(1098.60 377.35) scale(1 1.055)" font-size="29.3" fill="#2a2a2a" stroke="#2a2a2a" stroke-width="0.2" stroke-linejoin="round" text-anchor="end">2</text>
<line x1="1112.40" y1="560.10" x2="1122.40" y2="560.10" stroke="#000" stroke-width="2.4" stroke-linecap="butt"/>
<text transform="translate(1098.60 571.50) scale(1 1.055)" font-size="29.3" fill="#2a2a2a" stroke="#2a2a2a" stroke-width="0.2" stroke-linejoin="round" text-anchor="end">1.5</text>
<line x1="1112.40" y1="754.25" x2="1122.40" y2="754.25" stroke="#000" stroke-width="2.4" stroke-linecap="butt"/>
<text transform="translate(1098.60 765.65) scale(1 1.055)" font-size="29.3" fill="#2a2a2a" stroke="#2a2a2a" stroke-width="0.2" stroke-linejoin="round" text-anchor="end">1</text>
<text transform="translate(1098.60 960.00) scale(1 1.055)" font-size="29.3" fill="#2a2a2a" stroke="#2a2a2a" stroke-width="0.2" stroke-linejoin="round" text-anchor="end">0.5</text>
<line x1="1187.60" y1="948.40" x2="1187.60" y2="938.90" stroke="#000" stroke-width="2.4" stroke-linecap="butt"/>
<text transform="translate(1187.60 991.20) scale(1 1.04)" font-size="29.1" fill="#2a2a2a" stroke="#2a2a2a" stroke-width="0.2" stroke-linejoin="round" text-anchor="middle">Base</text>
<line x1="1310.70" y1="948.40" x2="1310.70" y2="938.90" stroke="#000" stroke-width="2.4" stroke-linecap="butt"/>
<text transform="translate(1310.70 991.20) scale(1 1.04)" font-size="29.1" fill="#2a2a2a" stroke="#2a2a2a" stroke-width="0.2" stroke-linejoin="round" text-anchor="middle">1AP</text>
<line x1="1433.80" y1="948.40" x2="1433.80" y2="938.90" stroke="#000" stroke-width="2.4" stroke-linecap="butt"/>
<text transform="translate(1433.80 991.20) scale(1 1.04)" font-size="29.1" fill="#2a2a2a" stroke="#2a2a2a" stroke-width="0.2" stroke-linejoin="round" text-anchor="middle">5APs</text>
<line x1="1556.90" y1="948.40" x2="1556.90" y2="938.90" stroke="#000" stroke-width="2.4" stroke-linecap="butt"/>
<text transform="translate(1556.90 991.20) scale(1 1.04)" font-size="29.1" fill="#2a2a2a" stroke="#2a2a2a" stroke-width="0.2" stroke-linejoin="round" text-anchor="middle">10APs</text>
<line x1="1680.00" y1="948.40" x2="1680.00" y2="938.90" stroke="#000" stroke-width="2.4" stroke-linecap="butt"/>
<text transform="translate(1680.00 991.20) scale(1 1.04)" font-size="29.1" fill="#2a2a2a" stroke="#2a2a2a" stroke-width="0.2" stroke-linejoin="round" text-anchor="middle">20APs</text>
<line x1="1803.20" y1="948.40" x2="1803.20" y2="938.90" stroke="#000" stroke-width="2.4" stroke-linecap="butt"/>
<text transform="translate(1803.20 991.20) scale(1 1.04)" font-size="29.1" fill="#2a2a2a" stroke="#2a2a2a" stroke-width="0.2" stroke-linejoin="round" text-anchor="middle">40APs</text>
<text transform="translate(1033.8 593.4) rotate(-90) scale(1 1.04)" font-size="46" fill="#262626" stroke="#262626" stroke-width="0.25" stroke-linejoin="round">&#916;F/F<tspan font-size="23.2" dy="9.3" dx="2.2" stroke-width="0.15">base</tspan></text>
</svg>
</body>
</html>
